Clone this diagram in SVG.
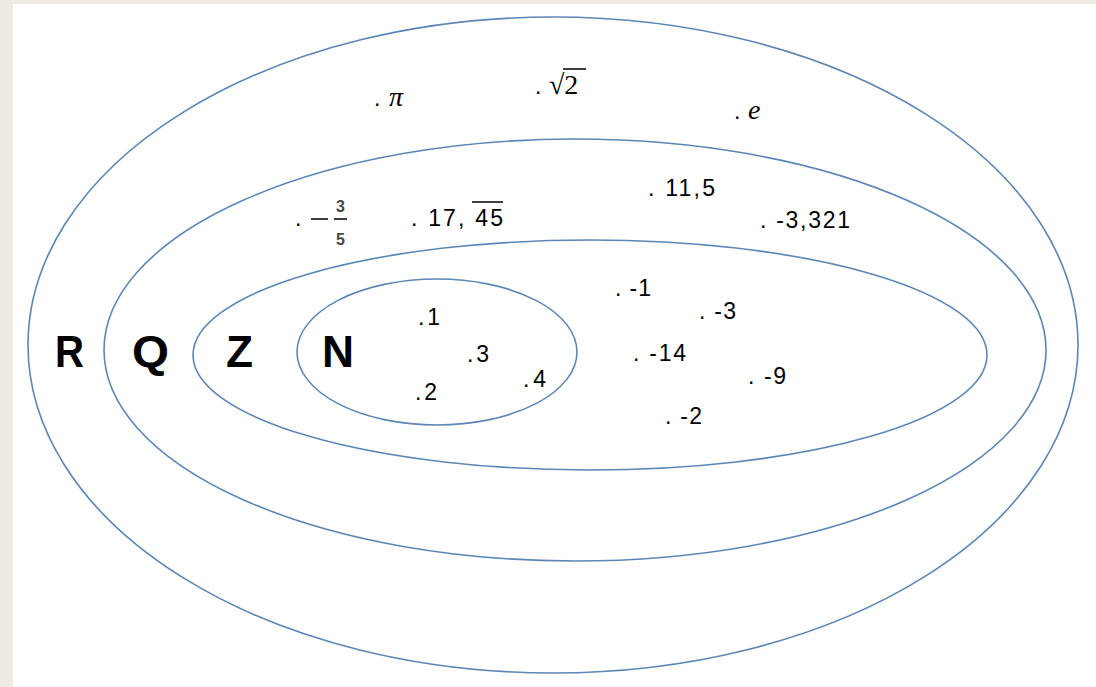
<svg xmlns="http://www.w3.org/2000/svg" width="1096" height="687" viewBox="0 0 1096 687">
<style>
.set{fill:none;stroke:#5b86b5;stroke-width:1.6}
.lbl{font-family:"Liberation Sans",Arial,sans-serif;font-weight:bold;font-size:44px;fill:#000}
.t{font-family:"Liberation Sans",Arial,sans-serif;font-size:23px;fill:#000}
.m{font-family:"Liberation Serif","DejaVu Serif",serif;font-size:28px;fill:#000}
.mi{font-family:"Liberation Serif","DejaVu Serif",serif;font-style:italic;font-size:28px;fill:#000}
.f{font-family:"Liberation Sans",Arial,sans-serif;font-size:16px;font-weight:bold;fill:#444}
.ln{stroke:#000;stroke-width:1.5}
</style>
<rect width="1096" height="687" fill="#eeebe2"/>
<rect x="13" y="4" width="1083" height="683" fill="#fff"/>
<g id="R">
<ellipse class="set" cx="553" cy="345" rx="525" ry="328"/>
<text class="lbl" x="55" y="367" textLength="29" lengthAdjust="spacingAndGlyphs">R</text>
<text class="t" x="374" y="106">.</text><text class="mi" x="389" y="106">π</text>
<text class="t" x="535" y="94">.</text><text class="m" x="549" y="94">√2</text>
<line class="ln" x1="563" y1="69" x2="586" y2="69"/>
<text class="t" x="734" y="119">.</text><text class="mi" x="748" y="119">e</text>
</g>
<g id="Q">
<ellipse class="set" cx="575" cy="350" rx="471" ry="211"/>
<text class="lbl" x="132" y="367" textLength="37" lengthAdjust="spacingAndGlyphs">Q</text>
<text class="t" x="295" y="226">.</text>
<line class="ln" x1="311" y1="219" x2="328" y2="219"/>
<text class="f" x="336" y="212">3</text>
<line class="ln" x1="334" y1="219" x2="347" y2="219" stroke-width="1.2"/>
<text class="f" x="336" y="245">5</text>
<text class="t" x="411" y="226" textLength="92" lengthAdjust="spacing">. 17, 45</text>
<line class="ln" x1="472" y1="202" x2="503" y2="202"/>
<text class="t" x="648" y="196" textLength="67" lengthAdjust="spacing">. 11,5</text>
<text class="t" x="760" y="228" textLength="90" lengthAdjust="spacing">. -3,321</text>
</g>
<g id="Z">
<ellipse class="set" cx="590" cy="355" rx="397" ry="115"/>
<text class="lbl" x="226" y="367" textLength="27" lengthAdjust="spacingAndGlyphs">Z</text>
<text class="t" x="615" y="296" textLength="36" lengthAdjust="spacing">. -1</text>
<text class="t" x="699" y="319" textLength="37" lengthAdjust="spacing">. -3</text>
<text class="t" x="633" y="361" textLength="53" lengthAdjust="spacing">. -14</text>
<text class="t" x="748" y="384" textLength="38" lengthAdjust="spacing">. -9</text>
<text class="t" x="665" y="424" textLength="37" lengthAdjust="spacing">. -2</text>
</g>
<g id="N">
<ellipse class="set" cx="437" cy="352" rx="140" ry="73"/>
<text class="lbl" x="322" y="367" textLength="32" lengthAdjust="spacingAndGlyphs">N</text>
<text class="t" x="418" y="325" textLength="22" lengthAdjust="spacing">.1</text>
<text class="t" x="467" y="362" textLength="22" lengthAdjust="spacing">.3</text>
<text class="t" x="415" y="400" textLength="22" lengthAdjust="spacing">.2</text>
<text class="t" x="523" y="387" textLength="23" lengthAdjust="spacing">.4</text>
</g>
<g id="connectors"/>
</svg>
